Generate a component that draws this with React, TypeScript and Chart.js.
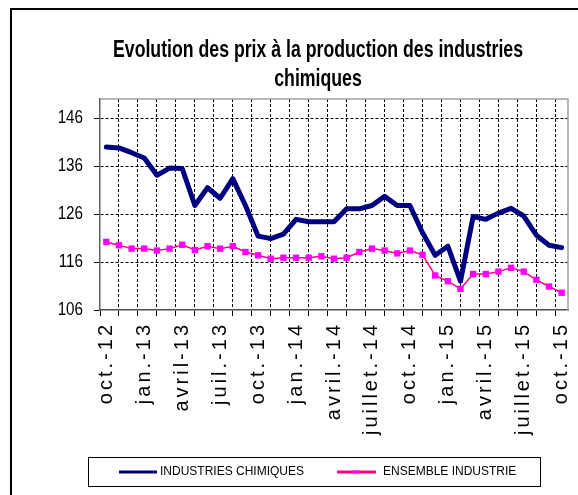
import React, { useEffect, useRef } from 'react';
import { Chart, registerables } from 'chart.js';

Chart.register(...registerables);

// Months (oct. 2012 -> oct. 2015), labels as written on the axis every 3 months
const months = [
  'oct.-12', 'nov.-12', 'déc.-12', 'jan.-13', 'févr.-13', 'mars-13', 'avril-13', 'mai-13', 'juin-13',
  'juil.-13', 'août-13', 'sept.-13', 'oct.-13', 'nov.-13', 'déc.-13', 'jan.-14', 'févr.-14', 'mars-14',
  'avril.-14', 'mai-14', 'juin-14', 'juillet.-14', 'août-14', 'sept.-14', 'oct.-14', 'nov.-14', 'déc.-14',
  'jan.-15', 'févr.-15', 'mars-15', 'avril.-15', 'mai-15', 'juin-15', 'juillet.-15', 'août-15', 'sept.-15',
  'oct.-15',
];

const industriesChimiques = [
  140.0, 139.8, 138.8, 137.7, 134.1, 135.6, 135.5, 127.8, 131.5, 129.3,
  133.4, 127.8, 121.4, 120.9, 121.8, 124.9, 124.4, 124.4, 124.4, 127.1,
  127.1, 127.8, 129.7, 127.8, 127.8, 122.1, 117.4, 119.3, 112.0, 125.5,
  124.9, 126.2, 127.2, 125.6, 121.6, 119.5, 119.0,
];

const ensembleIndustrie = [
  120.2, 119.5, 118.8, 118.8, 118.4, 118.8, 119.6, 118.5, 119.3, 118.8,
  119.3, 118.1, 117.4, 116.7, 116.9, 116.9, 116.9, 117.2, 116.7, 116.9,
  118.1, 118.8, 118.4, 117.8, 118.4, 117.5, 113.2, 112.0, 110.4, 113.5,
  113.5, 114.0, 114.8, 114.0, 112.3, 110.9, 109.6,
];

const yTicks = [106, 116, 126, 136, 146];
const titleLines = ['Evolution des prix à la production des industries', 'chimiques'];
const seriesNames = ['INDUSTRIES CHIMIQUES', 'ENSEMBLE INDUSTRIE'];

const SANS = '"Liberation Sans", Arial, sans-serif';

const isLabelTick = (v: number) => Number.isInteger(v) && v % 3 === 0;

const decorPlugin = {
  id: 'decor',
  beforeDraw(chart: any) {
    const ctx = chart.ctx;
    const xs = chart.scales.x;
    if (xs && !xs.__patched) {
      const orig = xs.drawLabels.bind(xs);
      xs.drawLabels = (ca: any) => {
        ctx.save();
        (ctx as any).letterSpacing = '3px';
        orig(ca);
        ctx.restore();
      };
      xs.__patched = true;
    }
    const ys = chart.scales.y;
    if (ys && !ys.__patched) {
      const origY = ys.drawLabels.bind(ys);
      ys.drawLabels = (ca: any) => {
        const ax = ys.right - 17; // right edge of the labels
        ctx.save();
        ctx.translate(ax, 0);
        ctx.scale(0.8, 1);
        ctx.translate(-ax, 0);
        origY(ca);
        ctx.restore();
      };
      ys.__patched = true;
    }
    ctx.save();
    ctx.fillStyle = '#ffffff';
    ctx.fillRect(0, 0, chart.width, chart.height);
    // outer frame (left and top)
    ctx.strokeStyle = '#000';
    ctx.lineWidth = 2;
    ctx.beginPath();
    ctx.moveTo(11, chart.height);
    ctx.lineTo(11, 9);
    ctx.lineTo(chart.width, 9);
    ctx.stroke();
    ctx.restore();
  },
  afterDraw(chart: any) {
    const ctx = chart.ctx;
    const ca = chart.chartArea;
    ctx.save();
    // plot frame top/right
    ctx.strokeStyle = '#a0a0a0';
    ctx.lineWidth = 1.5;
    ctx.beginPath();
    ctx.moveTo(ca.left, ca.top);
    ctx.lineTo(ca.right, ca.top);
    ctx.lineTo(ca.right, ca.bottom);
    ctx.stroke();

    // title (condensed bold)
    ctx.fillStyle = '#000';
    ctx.textAlign = 'center';
    ctx.textBaseline = 'alphabetic';
    ctx.font = `bold 23px ${SANS}`;
    const w = ctx.measureText(titleLines[0]).width;
    const sx = 410 / w;
    ctx.save();
    ctx.translate(318, 0);
    ctx.scale(sx, 1);
    ctx.fillText(titleLines[0], 0, 57);
    ctx.fillText(titleLines[1], 0, 86);
    ctx.restore();

    // legend
    ctx.fillStyle = '#fff';
    ctx.fillRect(88.5, 457.5, 452, 29);
    ctx.strokeStyle = '#000';
    ctx.lineWidth = 1;
    ctx.strokeRect(88.5, 457.5, 452, 29);
    ctx.lineWidth = 3;
    ctx.strokeStyle = '#000080';
    ctx.beginPath();
    ctx.moveTo(119, 472);
    ctx.lineTo(157, 472);
    ctx.stroke();
    ctx.strokeStyle = '#FF0080';
    ctx.beginPath();
    ctx.moveTo(337, 472);
    ctx.lineTo(376, 472);
    ctx.stroke();
    ctx.fillStyle = '#FF00FF';
    ctx.fillRect(353, 470.5, 6, 3);
    ctx.fillStyle = '#000';
    ctx.textAlign = 'left';
    ctx.textBaseline = 'middle';
    ctx.font = `12px ${SANS}`;
    ctx.fillText(seriesNames[0], 160, 472);
    ctx.fillText(seriesNames[1], 383, 472);
    ctx.restore();
  },
};

export default function App() {
  const ref = useRef<HTMLCanvasElement | null>(null);
  useEffect(() => {
    if (!ref.current) return;
    const chart = new Chart(ref.current, {
      type: 'line',
      data: {
        datasets: [
          {
            label: seriesNames[0],
            data: industriesChimiques.map((v, i) => ({ x: i, y: v })),
            borderColor: '#000080',
            backgroundColor: '#000080',
            borderWidth: 5,
            pointRadius: 0,
            borderJoinStyle: 'round',
            borderCapStyle: 'round',
            tension: 0,
          },
          {
            label: seriesNames[1],
            data: ensembleIndustrie.map((v, i) => ({ x: i, y: v })),
            borderColor: '#FF0080',
            backgroundColor: '#FF00FF',
            borderWidth: 1.5,
            pointStyle: 'rect',
            pointRadius: 4.5,
            pointBackgroundColor: '#FF00FF',
            pointBorderColor: '#FF00FF',
            pointBorderWidth: 0,
            tension: 0,
          },
        ],
      },
      options: {
        responsive: false,
        animation: false,
        devicePixelRatio: 1,
        layout: { padding: { left: 10, right: 10, top: 99, bottom: 45 } },
        plugins: {
          legend: { display: false },
          title: { display: false },
          tooltip: { enabled: false },
        },
        scales: {
          x: {
            type: 'linear',
            min: -0.5,
            max: months.length - 0.5,
            afterBuildTicks: (s: any) => {
              const t: any[] = [];
              for (let v = -0.5; v < months.length - 0.5; v += 1.5) t.push({ value: v });
              for (let i = 0; i < months.length; i += 3) t.push({ value: i });
              t.sort((a, b) => a.value - b.value);
              s.ticks = t;
            },
            afterFit: (s: any) => {
              s.height = 140;
              s.paddingLeft = 0;
              s.paddingRight = 0;
            },
            ticks: {
              autoSkip: false,
              maxRotation: 90,
              minRotation: 90,
              padding: 6,
              color: '#000',
              font: { family: SANS, size: 20 },
              callback: (v: any) => (isLabelTick(Number(v)) ? months[Number(v)] : ''),
            },
            grid: {
              color: (c: any) =>
                c.tick && !isLabelTick(c.tick.value) && c.tick.value > -0.5 ? '#000' : 'rgba(0,0,0,0)',
              tickColor: (c: any) => (c.tick && !isLabelTick(c.tick.value) ? '#000' : 'rgba(0,0,0,0)'),
              lineWidth: 1,
              tickLength: 6,
            },
            border: { display: true, color: '#505050', width: 1.5, dash: [3, 2] },
          },
          y: {
            type: 'linear',
            min: 106,
            max: 150,
            afterBuildTicks: (s: any) => {
              s.ticks = yTicks.map((v) => ({ value: v }));
            },
            afterFit: (s: any) => {
              s.width = 90;
            },
            ticks: {
              padding: 11,
              color: '#000',
              font: { family: SANS, size: 19 },
            },
            grid: {
              color: (c: any) => (c.tick && c.tick.value > 106 ? '#000' : 'rgba(0,0,0,0)'),
              tickColor: '#000',
              lineWidth: 1,
              tickLength: 6,
            },
            border: { display: true, color: '#606060', width: 1.5, dash: [3, 2] },
          },
        },
      },
      plugins: [decorPlugin],
    });
    return () => chart.destroy();
  }, []);
  return (
    <div style={{ position: 'fixed', left: 0, top: 0, width: 578, height: 495, background: '#fff' }}>
      <canvas ref={ref} width={578} height={495} style={{ display: 'block' }} />
    </div>
  );
}
